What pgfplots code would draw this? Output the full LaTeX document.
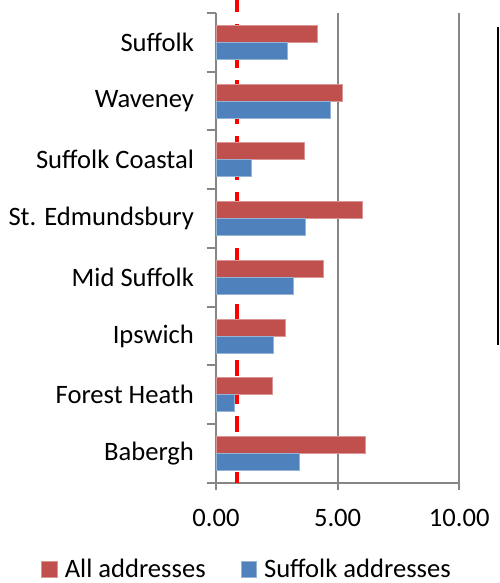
\documentclass[border=0pt]{standalone}
\usepackage{fontspec}
\setmainfont{Carlito}
\usepackage{pgfplots}
\pgfplotsset{compat=1.18}
\definecolor{barred}{HTML}{C0504D}
\definecolor{barblue}{HTML}{4F81BD}
\definecolor{axgray}{HTML}{868686}
\begin{document}
\begin{tikzpicture}
\begin{axis}[
  scale only axis, width=121.65pt, height=235pt,
  xmin=0, xmax=10, ymin=-0.5, ymax=7.5,
  clip=false,
  axis lines*=left,
  axis line style={axgray, line width=1pt},
  xtick={0,5,10}, ytick={0,...,7},
  yticklabels={Babergh, Forest Heath, Ipswich, Mid Suffolk, St. Edmundsbury, Suffolk Coastal, Waveney, Suffolk},
  minor ytick={-0.5,0.5,...,7.5},
  tick align=outside,
  major tick length=3.5pt, minor tick length=4.5pt,
  tick style={axgray, line width=1pt},
  major y tick style={draw=none},
  xmajorgrids, grid style={axgray, line width=1pt},
  /pgf/number format/.cd, fixed, fixed zerofill, precision=2, assume math mode=true, /pgfplots/.cd,
  ticklabel style={font=\fontsize{13.3}{16}\selectfont, text=black},
  yticklabel style={xshift=-4pt},
  xticklabel style={yshift=-6pt},
  legend style={at={(0.138,-0.184)}, anchor=center, draw=none, fill=none,
    legend columns=2, font=\fontsize{13.3}{16}\selectfont,
    nodes={inner xsep=3.5pt},
    /tikz/every even column/.append style={column sep=14pt}},
  legend image code/.code={\fill[#1] (0pt,-3.9pt) rectangle (7.8pt,3.9pt);},
]
\coordinate (bbA) at (axis cs:-8.878,7.721);
\coordinate (bbB) at (axis cs:11.673,-2.203);
\addplot[red, line width=2pt, dash pattern=on 8pt off 6pt, dash phase=2pt, forget plot]
  coordinates {(0.86,7.721) (0.86,-0.5)};
\addplot[xbar, bar width=0.29, bar shift=0.145, fill=barred, draw=barred!60!white, line width=0.4pt]
  coordinates {(6.15,0) (2.30,1) (2.84,2) (4.40,3) (6.00,4) (3.64,5) (5.18,6) (4.16,7)};
\addplot[xbar, bar width=0.29, bar shift=-0.145, fill=barblue, draw=barblue!60!white, line width=0.4pt]
  coordinates {(3.41,0) (0.74,1) (2.37,2) (3.19,3) (3.68,4) (1.47,5) (4.70,6) (2.93,7)};
\addplot[black, line width=1pt, forget plot] coordinates {(11.61,7.26) (11.61,1.85)};
\legend{All addresses, Suffolk addresses}
\end{axis}
\pgfresetboundingbox
\path (bbA) rectangle (bbB);
\end{tikzpicture}
\end{document}
